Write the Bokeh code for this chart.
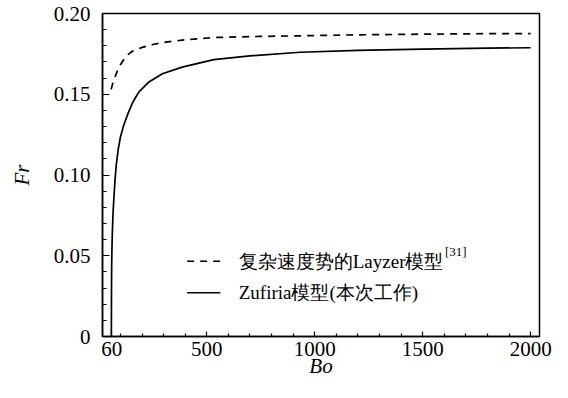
from bokeh.plotting import figure
from bokeh.models import Range1d, FixedTicker, Label, Arrow
from bokeh.embed import file_html
from bokeh.resources import INLINE

# Layzer model with complex velocity potential (dashed)
bo_layzer = [57, 60, 64, 70, 80, 90, 100, 117, 135, 155, 201, 250, 294, 386,
             525, 700, 933, 1200, 1500, 1800, 2000]
fr_layzer = [0.153, 0.1545, 0.1565, 0.1586, 0.1625, 0.1657, 0.1683, 0.1718,
             0.1745, 0.1766, 0.179, 0.1808, 0.182, 0.1835, 0.1851, 0.1857,
             0.1862, 0.1868, 0.1872, 0.1875, 0.1876]

# Zufiria model (solid)
bo_zufiria = [58, 58.5, 59.5, 61, 63, 66, 70, 75, 81, 90, 100, 116, 135, 155,
              170, 186, 232, 294, 386, 532, 700, 933, 1200, 1500, 1800, 2000]
fr_zufiria = [0.0, 0.025, 0.045, 0.056, 0.066, 0.077, 0.086, 0.097, 0.1066,
              0.116, 0.1235, 0.1311, 0.138, 0.1443, 0.148, 0.1515, 0.1576,
              0.1627, 0.1668, 0.1714, 0.1738, 0.1760, 0.1772, 0.1780, 0.1785,
              0.1788]

x_major_ticks = [60, 500, 1000, 1500, 2000]
x_minor_ticks = [100, 200, 300, 400, 600, 700, 800, 900, 1100, 1200, 1300,
                 1400, 1600, 1700, 1800, 1900]
y_major_ticks = [0, 0.05, 0.10, 0.15, 0.20]
y_tick_labels = ["0", "0.05", "0.10", "0.15", "0.20"]
y_minor_ticks = [0.01, 0.02, 0.03, 0.04, 0.06, 0.07, 0.08, 0.09, 0.11, 0.12,
                 0.13, 0.14, 0.16, 0.17, 0.18, 0.19]

x_title = "Bo"
y_title = "Fr"
legend_labels = ["复杂速度势的Layzer模型", "Zufiria模型(本次工作)"]
legend_ref = "[31]"

FONT = '"Liberation Serif"'
DASH = "7 6"

p = figure(width=552, height=382, output_backend="svg", toolbar_location=None,
           x_range=Range1d(17, 2041), y_range=Range1d(0, 0.2),
           min_border_left=102, min_border_right=13, min_border_top=13,
           min_border_bottom=46)
p.xgrid.visible = False
p.ygrid.visible = False
p.outline_line_color = "black"
p.outline_line_width = 1.5
p.outline_line_alpha = 1.0

p.line(bo_layzer, fr_layzer, line_color="black", line_width=1.7,
       line_dash=DASH)
p.line(bo_zufiria, fr_zufiria, line_color="black", line_width=1.7)

for ax in (p.xaxis[0], p.yaxis[0]):
    ax.axis_line_width = 1.5
    ax.axis_line_color = "black"
    ax.major_tick_line_color = "black"
    ax.minor_tick_line_color = "black"
    ax.major_tick_line_width = 1.2
    ax.minor_tick_line_width = 1.2
    ax.major_tick_out = 0
    ax.minor_tick_out = 0
    ax.major_label_text_font = FONT
    ax.major_label_text_font_style = "normal"
    ax.major_label_text_font_size = "21px"
    ax.major_label_text_color = "black"
    ax.axis_label_text_font = FONT
    ax.axis_label_text_font_style = "italic"
    ax.axis_label_text_font_size = "21px"
    ax.axis_label_text_color = "black"

p.xaxis.ticker = FixedTicker(ticks=x_major_ticks, minor_ticks=x_minor_ticks)
p.xaxis.major_tick_in = 5
p.xaxis.minor_tick_in = 3
p.xaxis.major_label_standoff = 5
p.xaxis.axis_label = x_title
p.xaxis.axis_label_standoff = -5

p.yaxis.ticker = FixedTicker(ticks=y_major_ticks, minor_ticks=y_minor_ticks)
p.yaxis.major_label_overrides = {t: s for t, s in zip(y_major_ticks, y_tick_labels)}
p.yaxis.major_tick_in = 7
p.yaxis.minor_tick_in = 4
p.yaxis.major_label_standoff = 12
p.yaxis.axis_label = y_title
p.yaxis.axis_label_standoff = 17

# legend drawn by hand (needs superscript reference)
leg_x0, leg_x1, leg_tx = 409, 563, 648
leg_y = [0.0466, 0.0271]
p.add_layout(Arrow(end=None, x_start=leg_x0, y_start=leg_y[0], x_end=leg_x1,
                   y_end=leg_y[0], line_color="black", line_width=1.5,
                   line_dash=DASH))
p.add_layout(Arrow(end=None, x_start=leg_x0, y_start=leg_y[1], x_end=leg_x1,
                   y_end=leg_y[1], line_color="black", line_width=1.5))
for lbl, yy in zip(legend_labels, leg_y):
    p.add_layout(Label(x=leg_tx, y=yy, text=lbl, text_baseline="middle",
                       text_align="left", text_font=FONT,
                       text_font_size="19px", text_color="black"))
p.add_layout(Label(x=1603, y=0.0526, text=legend_ref, text_baseline="middle",
                   text_align="left", text_font=FONT, text_font_size="13px",
                   text_color="black"))

open("out.html", "w").write(file_html(p, INLINE))
